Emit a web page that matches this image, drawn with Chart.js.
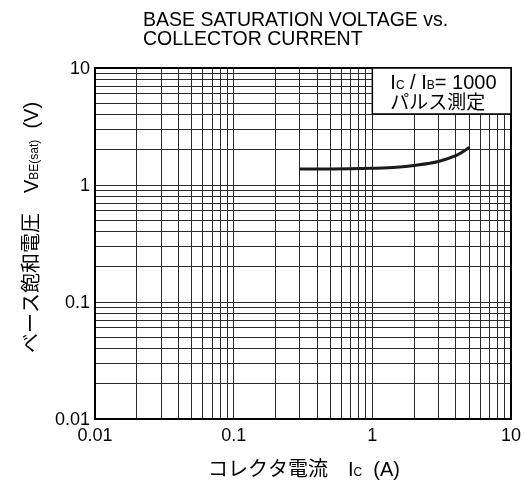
<!DOCTYPE html>
<html><head><meta charset="utf-8">
<script src="https://cdn.jsdelivr.net/npm/chart.js@4.4.0/dist/chart.umd.min.js"></script>
<style>html,body{margin:0;padding:0;background:#fff}#wrap{width:524px;height:484px;position:relative}</style>
</head><body><div id="wrap"><canvas id="c" width="524" height="484"></canvas></div>
<script>
// Data
const currentA = [0.3, 0.5, 0.7, 1, 1.5, 2, 3, 4, 4.5, 5];
const vbeSat   = [1.37, 1.37, 1.375, 1.39, 1.42, 1.47, 1.59, 1.78, 1.92, 2.1];
const xTickValues = [0.01, 0.1, 1, 10];
const xTickLabels = ['0.01', '0.1', '1', '10'];
const yTickValues = [0.01, 0.1, 1, 10];
const yTickLabels = ['0.01', '0.1', '1', '10'];
const titleLines = ['BASE SATURATION VOLTAGE vs.', 'COLLECTOR CURRENT'];
const xTitleParts = [['コレクタ電流　I', 'big'], ['C', 'small'], ['  (A)', 'big']];
const yTitleParts = [['ベース飽和電圧　V', 'big'], ['BE(sat)', 'small'], ['  (V)', 'big']];
const noteLine1 = [['I', 'big'], ['C', 'small'], [' / I', 'big'], ['B', 'small'], ['= 1000', 'big']];
const noteLine2 = 'パルス測定';

const decades = [0.01, 0.1, 1];
const gridVals = [];
decades.forEach(d => { for (let k = 1; k <= 9; k++) gridVals.push(Number((k * d).toPrecision(3))); });
gridVals.push(10);

const FAM = '"Liberation Sans", Arial, "Noto Sans CJK JP", sans-serif';
const BIG = '20px ' + FAM;
const SMALL = '12px ' + FAM;

function partsWidth(ctx, parts) {
  let w = 0;
  parts.forEach(([t, s]) => { ctx.font = s === 'big' ? BIG : SMALL; w += ctx.measureText(t).width; });
  return w;
}
function drawParts(ctx, parts, x, y) {
  let cx = x;
  parts.forEach(([t, s]) => {
    ctx.font = s === 'big' ? BIG : SMALL;
    ctx.fillText(t, cx, y);
    cx += ctx.measureText(t).width;
  });
  return cx - x;
}

const deco = {
  id: 'deco',
  afterDraw(chart) {
    const ctx = chart.ctx, a = chart.chartArea;
    const xs = chart.scales.x, ys = chart.scales.y;
    ctx.save();
    // frame
    ctx.strokeStyle = '#000'; ctx.lineWidth = 2;
    ctx.strokeRect(a.left, a.top, a.right - a.left, a.bottom - a.top);
    ctx.fillStyle = '#000';
    // tick labels
    ctx.font = '18px ' + FAM;
    ctx.textAlign = 'right'; ctx.textBaseline = 'middle';
    yTickValues.forEach((v, i) => ctx.fillText(yTickLabels[i], a.left - 5, ys.getPixelForValue(v) + 1));
    ctx.textAlign = 'center'; ctx.textBaseline = 'alphabetic';
    xTickValues.forEach((v, i) => ctx.fillText(xTickLabels[i], xs.getPixelForValue(v), a.bottom + 22));
    // title
    ctx.textAlign = 'left';
    ctx.font = '19.5px ' + FAM;
    ctx.fillText(titleLines[0], 143, 26);
    ctx.fillText(titleLines[1], 143, 45);
    // x title
    const xw = partsWidth(ctx, xTitleParts);
    drawParts(ctx, xTitleParts, (a.left + a.right) / 2 - xw / 2 + 1, 476);
    // y title
    ctx.save();
    ctx.translate(38, 353);
    ctx.rotate(-Math.PI / 2);
    drawParts(ctx, yTitleParts, 0, 0);
    ctx.restore();
    // note box
    const bx = xs.getPixelForValue(1), by = a.top, bw = a.right - bx, bh = 46;
    ctx.fillStyle = '#fff';
    ctx.fillRect(bx, by, bw, bh);
    ctx.strokeStyle = '#000'; ctx.lineWidth = 1.5;
    ctx.strokeRect(bx, by, bw, bh);
    ctx.fillStyle = '#000';
    drawParts(ctx, noteLine1, bx + 18, by + 21);
    ctx.font = '19px ' + FAM;
    ctx.fillText(noteLine2, bx + 18, by + 41);
    ctx.restore();
  }
};

new Chart(document.getElementById('c'), {
  type: 'line',
  data: {
    datasets: [{
      data: currentA.map((x, i) => ({ x, y: vbeSat[i] })),
      borderColor: '#1a1a1a', borderWidth: 3, pointRadius: 0,
      cubicInterpolationMode: 'monotone', fill: false
    }]
  },
  options: {
    responsive: false, animation: false,
    layout: { padding: { left: 95, top: 68, right: 13, bottom: 65 } },
    plugins: { legend: { display: false }, tooltip: { enabled: false }, title: { display: false } },
    scales: {
      x: {
        type: 'logarithmic', min: 0.01, max: 10,
        afterBuildTicks: s => { s.ticks = gridVals.map(v => ({ value: v })); },
        ticks: { display: false, autoSkip: false },
        grid: { color: '#2a2a2a', lineWidth: 1, drawTicks: false },
        border: { display: false }
      },
      y: {
        type: 'logarithmic', min: 0.01, max: 10,
        afterBuildTicks: s => { s.ticks = gridVals.map(v => ({ value: v })); },
        ticks: { display: false, autoSkip: false },
        grid: { color: '#2a2a2a', lineWidth: 1, drawTicks: false },
        border: { display: false }
      }
    }
  },
  plugins: [deco]
});
</script></body></html>
